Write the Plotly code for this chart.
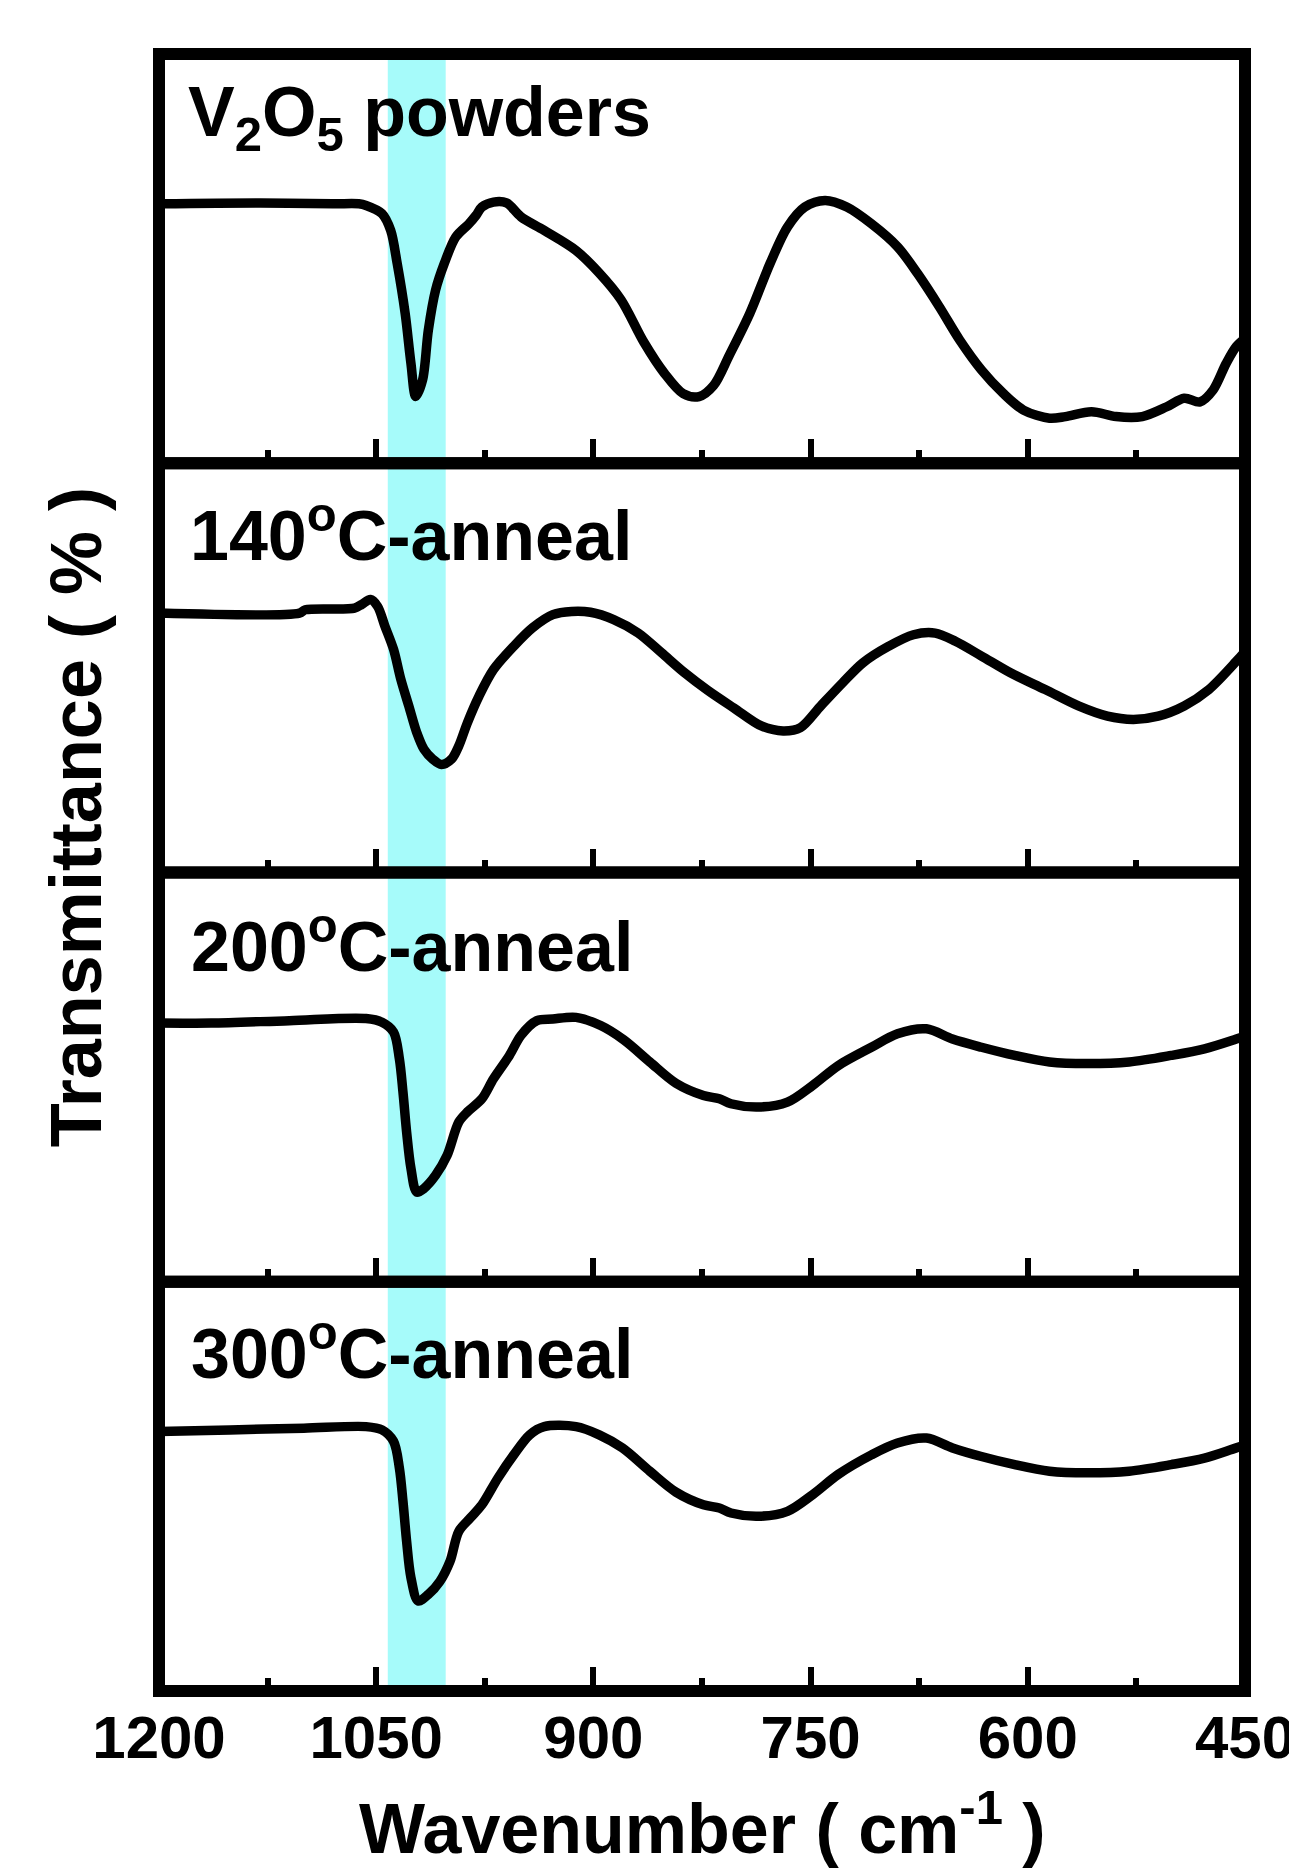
import plotly.graph_objects as go
from plotly.subplots import make_subplots

# ---------------- data ----------------
PANEL_LABELS = [
    "V<sub>2</sub>O<sub>5</sub> powders",
    "140<sup>o</sup>C-anneal",
    "200<sup>o</sup>C-anneal",
    "300<sup>o</sup>C-anneal",
]

wn_powder = [1200, 1130, 1080, 1062, 1057, 1046, 1040, 1035.5, 1030, 1026, 1022.7, 1018, 1014,
             1009, 1003, 995, 986, 981, 977, 969, 960, 950, 934, 912, 896, 881, 865, 851, 838,
             827, 817, 806, 792, 778, 766, 754, 740, 725, 708, 690, 676, 661, 647, 632, 617,
             603, 585, 574, 556, 539, 521, 504, 492, 481, 472, 463, 456, 450]
tr_powder = [63.4, 63.6, 63.4, 63.4, 63.0, 61.0, 56.9, 48.8, 36.6, 24.4, 16.3, 20.3, 32.5,
             42.3, 48.8, 55.3, 58.5, 60.6, 62.6, 63.8, 63.6, 60.2, 56.9, 52.0, 46.5, 40.0, 29.5,
             22.0, 17.0, 16.3, 19.0, 26.5, 36.6, 48.8, 57.7, 62.6, 64.2, 62.6, 58.5, 52.9, 46.3,
             38.2, 30.1, 22.8, 17.1, 13.0, 11.0, 11.4, 12.6, 11.4, 11.4, 13.8, 15.9, 15.0, 17.9,
             24.4, 28.5, 30.5]

wn_140 = [1200, 1103, 1099, 1065, 1060, 1054, 1049, 1044, 1038, 1033, 1027.5, 1022, 1017, 1011,
          1005, 998, 993, 987, 979, 969, 955, 942, 928, 915, 902, 886, 869, 853, 837, 821, 803,
          784, 769, 757, 743, 728, 714, 696, 679, 664, 650, 632, 612, 588, 565, 545, 527, 510,
          492, 475, 456, 450]
tr_140 = [63.4, 63.4, 64.2, 64.6, 65.5, 66.7, 65.0, 60.2, 54.5, 47.2, 40.7, 34.2, 30.1, 27.7,
          26.4, 27.7, 30.9, 36.6, 43.1, 49.6, 55.3, 59.8, 63.0, 63.8, 63.6, 61.8, 58.5, 53.7,
          48.8, 44.5, 40.2, 35.8, 34.6, 35.4, 40.7, 46.3, 51.2, 55.3, 58.1, 58.5, 56.5, 52.9,
          48.8, 44.7, 40.7, 38.2, 37.4, 38.2, 40.7, 44.7, 51.6, 54.0]

wn_200 = [1200, 1164, 1110, 1057, 1046, 1038, 1034, 1031.5, 1029, 1026, 1022, 1017, 1009,
          1001, 993, 987, 977, 969, 958, 950, 939, 928, 912, 895, 879, 861, 843, 824, 813, 805,
          786, 766, 748.5, 731, 708, 690, 670, 652, 632, 609, 585, 559, 530, 501, 478, 456, 450]
tr_200 = [63.2, 63.2, 63.8, 64.3, 63.4, 61.0, 54.5, 46.3, 36.6, 27.7, 21.9, 22.8, 26.0,
          30.9, 39.0, 41.5, 44.7, 49.6, 55.3, 60.2, 63.8, 64.2, 64.6, 62.6, 59.1, 53.7, 48.5,
          45.5, 44.7, 43.5, 42.7, 43.9, 48.0, 52.8, 57.3, 60.6, 61.8, 59.3, 57.3, 55.3, 53.7,
          53.3, 53.7, 55.3, 56.9, 59.3, 60.0]

wn_300 = [1200, 1151, 1100, 1057, 1046, 1038, 1034, 1031.5, 1029, 1026, 1021, 1014, 1006, 999,
          993, 985, 977, 966, 955, 944, 934, 912, 896, 880, 861, 843, 824, 813, 805, 786, 766,
          748.5, 731, 708, 690, 670, 652, 632, 609, 585, 559, 530, 501, 478, 456, 450]
tr_300 = [63.4, 63.8, 64.2, 64.6, 63.8, 61.0, 54.5, 46.3, 36.6, 27.7, 22.0, 23.6, 26.8, 31.7,
          39.0, 42.3, 45.5, 52.0, 57.7, 62.6, 64.6, 64.6, 62.6, 59.4, 53.7, 48.6, 45.5, 44.7,
          43.5, 42.7, 43.9, 48.0, 52.9, 57.7, 60.6, 61.8, 59.4, 57.3, 55.3, 53.7, 53.3, 53.7,
          55.3, 56.9, 59.4, 60.0]

SERIES_X = [wn_powder, wn_140, wn_200, wn_300]
SERIES_Y = [tr_powder, tr_140, tr_200, tr_300]

TICK_VALUES = [1200, 1050, 900, 750, 600, 450]
TICK_LABELS = ["1200", "1050", "900", "750", "600", "450"]
MINOR_TICKS = [1125, 975, 825, 675, 525]
HIGHLIGHT_BAND = [1042, 1002]   # wavenumber range of the cyan band

X_TITLE = "Wavenumber ( cm<sup>-1</sup> )"
Y_TITLE = "Transmittance ( % )"

# ---------------- figure ----------------
FONT = "Liberation Sans, Arial, sans-serif"

fig = make_subplots(rows=4, cols=1, shared_xaxes=True, vertical_spacing=0)

for i, (xs, ys) in enumerate(zip(SERIES_X, SERIES_Y), start=1):
    fig.add_trace(
        go.Scatter(x=xs, y=ys, mode="lines",
                   line=dict(color="black", width=9.5, shape="spline", smoothing=0.9),
                   hoverinfo="skip", showlegend=False),
        row=i, col=1)

fig.update_xaxes(
    range=[1200, 450], showgrid=False, zeroline=False, showline=False, automargin=False,
    tickmode="array", tickvals=TICK_VALUES, ticktext=TICK_LABELS,
    ticks="inside", ticklen=24, tickwidth=6, tickcolor="black",
    ticklabeloverflow="allow", ticklabelstandoff=6,
    minor=dict(tickmode="array", tickvals=MINOR_TICKS, ticks="inside",
               ticklen=13, tickwidth=6, tickcolor="black", showgrid=False),
    tickfont=dict(family=FONT, size=60, color="black", weight="bold"),
)
fig.update_yaxes(range=[0, 100], showgrid=False, zeroline=False, showline=False,
                 showticklabels=False, ticks="", automargin=False)

shapes = []
# cyan highlight band across all panels
shapes.append(dict(type="rect", xref="x", yref="paper",
                   x0=HIGHLIGHT_BAND[0], x1=HIGHLIGHT_BAND[1], y0=0, y1=1,
                   fillcolor="#a6fbfa", line=dict(width=0), layer="below"))
# frames of the four panels
for i in range(1, 5):
    sfx = "" if i == 1 else str(i)
    shapes.append(dict(type="rect", xref=f"x{sfx} domain", yref=f"y{sfx} domain",
                       x0=0, x1=1, y0=0, y1=1,
                       line=dict(color="black", width=12), layer="above"))

annotations = []
label_pos = [(0.025, 0.846), (0.027, 0.835), (0.028, 0.83), (0.028, 0.835)]
for i, (txt, (ax, ay)) in enumerate(zip(PANEL_LABELS, label_pos), start=1):
    sfx = "" if i == 1 else str(i)
    annotations.append(dict(text=txt, xref=f"x{sfx} domain", yref=f"y{sfx} domain",
                            x=ax, y=ay, xanchor="left", yanchor="middle", showarrow=False,
                            font=dict(family=FONT, size=70, color="black", weight="bold")))

annotations.append(dict(text=X_TITLE, xref="paper", yref="paper", x=0.5, y=-0.0815,
                        xanchor="center", yanchor="middle", showarrow=False,
                        font=dict(family=FONT, size=70, color="black", weight="bold")))
annotations.append(dict(text=Y_TITLE, xref="paper", yref="paper", x=-0.077, y=0.534,
                        xanchor="center", yanchor="middle", textangle=-90, showarrow=False,
                        font=dict(family=FONT, size=72, color="black", weight="bold")))

fig.update_layout(
    width=1289, height=1869,
    margin=dict(l=159, r=44, t=54, b=178, autoexpand=False),
    paper_bgcolor="white", plot_bgcolor="rgba(0,0,0,0)",
    showlegend=False, shapes=shapes, annotations=annotations,
)

fig.write_html("out.html")
